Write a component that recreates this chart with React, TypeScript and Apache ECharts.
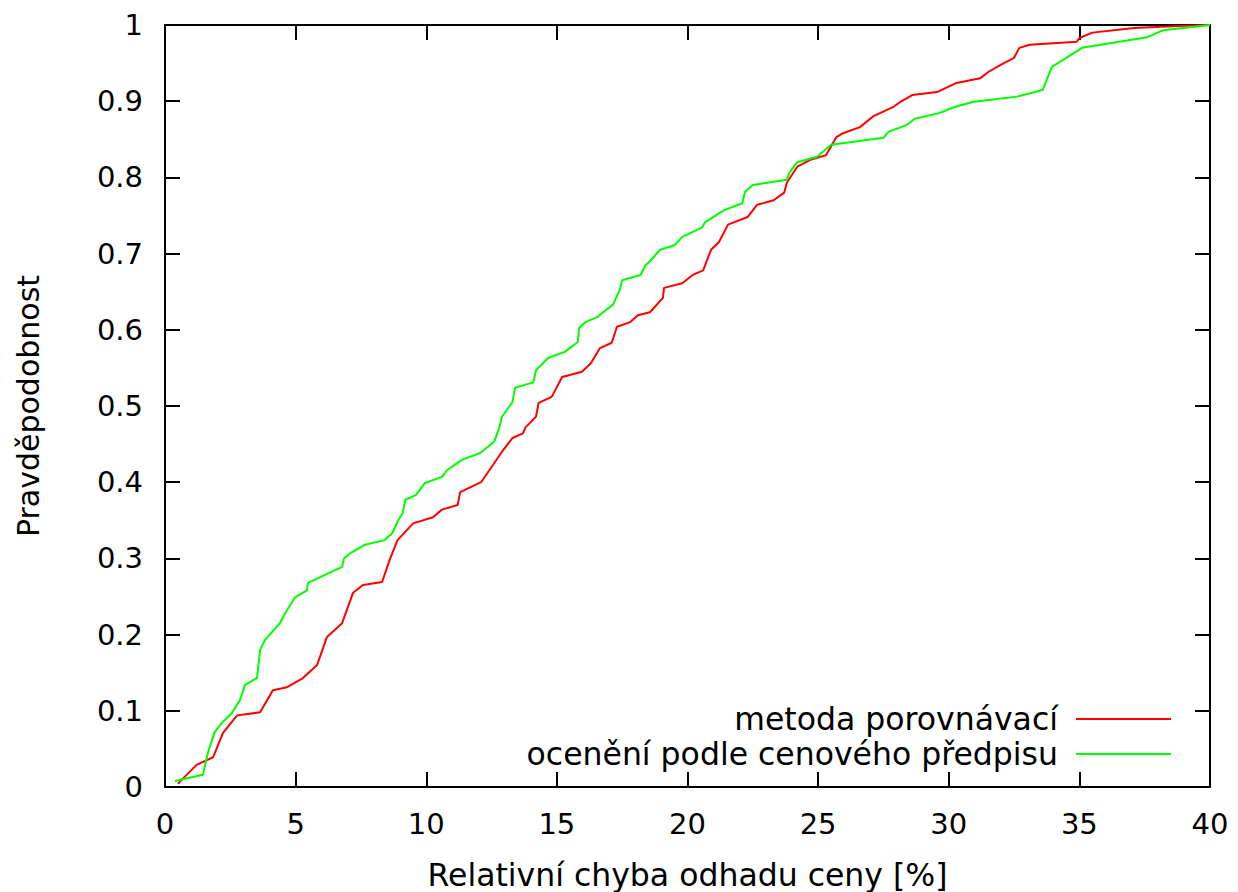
import React, { useEffect, useRef } from "react";
import * as echarts from "echarts";

const seriesNames = ["metoda porovnávací", "ocenění podle cenového předpisu"];
const seriesColors = ["#ff0000", "#00ff00"];
const xTicks = [0, 5, 10, 15, 20, 25, 30, 35, 40];
const yTicks = [0, 0.1, 0.2, 0.3, 0.4, 0.5, 0.6, 0.7, 0.8, 0.9, 1];

const metodaPorovnavaci: [number, number][] = [
  [0.5, 0.004], [0.57, 0.007], [1.21, 0.029], [1.84, 0.039], [2.22, 0.071], [2.76, 0.094],
  [3.64, 0.098], [4.13, 0.127], [4.67, 0.131], [5.28, 0.143], [5.82, 0.16], [6.2, 0.197],
  [6.78, 0.215], [7.2, 0.255], [7.58, 0.265], [8.31, 0.269], [8.6, 0.298], [8.9, 0.324],
  [9.5, 0.346], [10.26, 0.354], [10.6, 0.364], [11.2, 0.37], [11.3, 0.387], [12.1, 0.4],
  [12.9, 0.44], [13.3, 0.458], [13.7, 0.464], [13.8, 0.472], [14.2, 0.486], [14.3, 0.504],
  [14.8, 0.512], [15.2, 0.538], [15.96, 0.545], [16.3, 0.556], [16.65, 0.576], [17.1, 0.583],
  [17.3, 0.604], [17.8, 0.61], [18.1, 0.619], [18.56, 0.623], [19.06, 0.642], [19.1, 0.655],
  [19.8, 0.661], [20.2, 0.672], [20.6, 0.678], [20.9, 0.705], [21.2, 0.715], [21.55, 0.738],
  [22.3, 0.748], [22.66, 0.764], [23.3, 0.77], [23.7, 0.78], [23.8, 0.793], [24.2, 0.814],
  [24.7, 0.823], [25.3, 0.829], [25.7, 0.853], [25.95, 0.858], [26.6, 0.866], [27.1, 0.88],
  [27.9, 0.893], [28.1, 0.898], [28.6, 0.908], [29.55, 0.912], [30.3, 0.924], [31.2, 0.93],
  [31.5, 0.938], [32.0, 0.948], [32.5, 0.957], [32.7, 0.97], [33.1, 0.974], [34.9, 0.978],
  [35.0, 0.983], [35.5, 0.99], [37.1, 0.996], [39.0, 0.999], [40, 1.0],
];

const oceneniPredpis: [number, number][] = [
  [0.38, 0.008], [1.45, 0.016], [1.65, 0.046], [1.9, 0.072], [2.2, 0.085], [2.56, 0.097],
  [2.87, 0.114], [3.06, 0.134], [3.52, 0.143], [3.64, 0.18], [3.83, 0.193], [4.4, 0.215],
  [4.6, 0.228], [4.98, 0.249], [5.43, 0.258], [5.47, 0.268], [6.78, 0.289], [6.85, 0.3],
  [7.1, 0.307], [7.66, 0.318], [8.4, 0.324], [8.7, 0.333], [8.9, 0.348], [9.1, 0.36],
  [9.2, 0.377], [9.6, 0.383], [9.95, 0.399], [10.6, 0.407], [10.8, 0.416], [11.4, 0.43],
  [12.05, 0.438], [12.6, 0.453], [12.8, 0.472], [12.9, 0.486], [13.3, 0.505], [13.4, 0.524],
  [14.1, 0.531], [14.2, 0.547], [14.66, 0.563], [15.3, 0.571], [15.8, 0.584], [15.85, 0.602],
  [16.08, 0.61], [16.57, 0.617], [16.77, 0.623], [17.15, 0.633], [17.4, 0.652], [17.5, 0.665],
  [18.2, 0.672], [18.4, 0.685], [18.56, 0.69], [18.95, 0.705], [19.5, 0.711], [19.8, 0.722],
  [20.55, 0.734], [20.67, 0.741], [21.4, 0.757], [22.1, 0.766], [22.2, 0.781], [22.5, 0.79],
  [23.8, 0.797], [23.9, 0.806], [24.2, 0.82], [24.96, 0.827], [25.5, 0.843], [27.5, 0.852],
  [27.7, 0.86], [28.1, 0.865], [28.4, 0.869], [28.7, 0.877], [29.6, 0.884], [30.2, 0.892],
  [30.9, 0.899], [32.6, 0.906], [33.2, 0.911], [33.6, 0.915], [33.75, 0.928], [33.95, 0.945],
  [35.1, 0.97], [37.6, 0.984], [38.2, 0.993], [40, 1.0],
];

const FONT = "DejaVu Sans";

export default function App() {
  const ref = useRef<HTMLDivElement>(null);
  useEffect(() => {
    if (!ref.current) return;
    const chart = echarts.init(ref.current, undefined, { renderer: "svg" });
    const axisLine = { show: true, onZero: false, lineStyle: { color: "#000", width: 2 } };
    const tick = { show: true, inside: true, length: 15, lineStyle: { color: "#000", width: 2 } };
    chart.setOption({
      animation: false,
      backgroundColor: "#fff",
      grid: {
        left: 165,
        top: 25,
        right: 28,
        bottom: 105,
        containLabel: false,
        outerBoundsMode: "none",
      },
      legend: {
        orient: "vertical",
        right: 62,
        top: 698,
        align: "right",
        icon: "rect",
        itemWidth: 95,
        itemHeight: 2,
        itemGap: 3,
        data: seriesNames,
        textStyle: {
          fontFamily: FONT,
          fontSize: 31.5,
          lineHeight: 31,
          color: "#000",
          padding: [0, 13, 0, 0],
        },
      },
      xAxis: [
        {
          type: "value",
          min: xTicks[0],
          max: xTicks[xTicks.length - 1],
          interval: 5,
          position: "bottom",
          name: "Relativní chyba odhadu ceny [%]",
          nameLocation: "middle",
          nameGap: 72,
          nameTextStyle: { fontFamily: FONT, fontSize: 31.5, lineHeight: 32, color: "#000" },
          axisLine,
          axisTick: tick,
          splitLine: { show: false },
          axisLabel: { fontFamily: FONT, fontSize: 29, color: "#000", margin: 22 },
        },
        {
          type: "value",
          min: xTicks[0],
          max: xTicks[xTicks.length - 1],
          interval: 5,
          position: "top",
          axisLine,
          axisTick: tick,
          splitLine: { show: false },
          axisLabel: { show: false },
        },
      ],
      yAxis: [
        {
          type: "value",
          min: yTicks[0],
          max: yTicks[yTicks.length - 1],
          interval: 0.1,
          position: "left",
          name: "Pravděpodobnost",
          nameLocation: "middle",
          nameGap: 122,
          nameTextStyle: { fontFamily: FONT, fontSize: 30, color: "#000" },
          axisLine,
          axisTick: tick,
          splitLine: { show: false },
          axisLabel: {
            fontFamily: FONT,
            fontSize: 29,
            color: "#000",
            margin: 22,
            formatter: (v: number) => String(Math.round(v * 10) / 10),
          },
        },
        {
          type: "value",
          min: yTicks[0],
          max: yTicks[yTicks.length - 1],
          interval: 0.1,
          position: "right",
          axisLine,
          axisTick: tick,
          splitLine: { show: false },
          axisLabel: { show: false },
        },
      ],
      series: [
        {
          name: seriesNames[0],
          type: "line",
          data: metodaPorovnavaci,
          showSymbol: false,
          symbol: "none",
          lineStyle: { color: seriesColors[0], width: 2 },
          itemStyle: { color: seriesColors[0] },
        },
        {
          name: seriesNames[1],
          type: "line",
          data: oceneniPredpis,
          showSymbol: false,
          symbol: "none",
          lineStyle: { color: seriesColors[1], width: 2 },
          itemStyle: { color: seriesColors[1] },
        },
      ],
    });
    return () => chart.dispose();
  }, []);
  return (
    <div
      ref={ref}
      style={{ position: "fixed", left: 0, top: 0, width: 1238, height: 892 }}
    />
  );
}
